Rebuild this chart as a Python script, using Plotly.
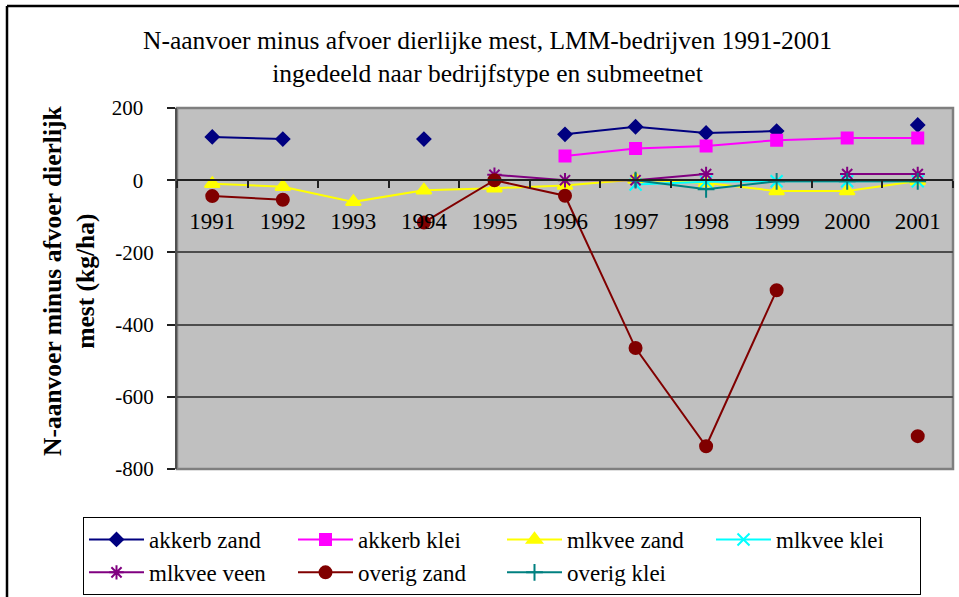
import plotly.graph_objects as go

W, H = 959, 597
FONT = "Liberation Serif"

years = ["1991", "1992", "1993", "1994", "1995", "1996", "1997", "1998", "1999", "2000", "2001"]

akkerb_zand = [120, 114, None, 114, None, 127, 148, 131, 136, None, 153]
akkerb_klei = [None, None, None, None, None, 67, 88, 95, 111, 117, 117]
mlkvee_zand = [-10, -18, -60, -28, -22, -15, 2, -8, -30, -30, -2]
mlkvee_klei = [None, None, None, None, None, None, -12, -4, -3, -3, -3]
mlkvee_veen = [None, None, None, None, 15, 0, 0, 17, None, 17, 17]
overig_zand = [-44, -54, None, -117, 0, -43, -465, -737, -305, None, -709]
overig_klei = [None, None, None, None, None, None, 0, -25, -3, -3, -3]

series_names = ["akkerb zand", "akkerb klei", "mlkvee zand", "mlkvee klei",
                "mlkvee veen", "overig zand", "overig klei"]
series_values = [akkerb_zand, akkerb_klei, mlkvee_zand, mlkvee_klei,
                 mlkvee_veen, overig_zand, overig_klei]

y_tickvals = [-800, -600, -400, -200, 0, 200]
y_ticktext = ["-800", "-600", "-400", "-200", "0\u00a0\u00a0", "200\u00a0\u00a0"]

title_lines = ["N-aanvoer minus afvoer dierlijke mest, LMM-bedrijven 1991-2001",
               "ingedeeld naar bedrijfstype en submeetnet"]
ytitle_lines = ["N-aanvoer minus afvoer dierlijk", "mest (kg/ha)"]

styles = [
    dict(color="#000080", symbol="diamond", size=10),
    dict(color="#FF00FF", symbol="square", size=11),
    dict(color="#FFFF00", symbol="triangle-up", size=13),
    dict(color="#00FFFF", symbol="x-thin-open", size=12),
    dict(color="#800080", symbol="asterisk-open", size=12),
    dict(color="#800000", symbol="circle", size=12),
    dict(color="#008080", symbol="cross-thin-open", size=12),
]

# plot area in pixels
L, R, T, B = 177, 953, 108, 469
pw, ph = R - L, B - T

fig = go.Figure()
for name, vals, st in zip(series_names, series_values, styles):
    fig.add_trace(go.Scatter(
        x=years, y=vals, name=name, mode="lines+markers",
        connectgaps=False,
        line=dict(color=st["color"], width=2),
        marker=dict(symbol=st["symbol"], size=st["size"], color=st["color"],
                    line=dict(color=st["color"], width=2)),
    ))

def px_x(p):
    return (p - L) / pw

def px_y(p):
    return (B - p) / ph

fig.update_layout(
    width=W, height=H, autosize=False,
    margin=dict(l=L, r=W - R, t=T, b=H - B, pad=0, autoexpand=False),
    paper_bgcolor="white", plot_bgcolor="#C0C0C0",
    font=dict(family=FONT, color="black", size=22),
    title=dict(text="<br>".join(title_lines), x=487.5 / W, xanchor="center",
               y=1 - 49 / H, yanchor="middle", yref="container", xref="container",
               font=dict(family=FONT, size=25.5, color="black")),
    xaxis=dict(type="category", categoryorder="array", categoryarray=years,
               anchor="free", position=0.8, showgrid=False,
               showline=True, linecolor="#202020", linewidth=1.5,
               ticks="outside", tickson="boundaries", ticklen=7, tickcolor="#202020",
               tickwidth=1.5, ticklabelstandoff=20,
               tickfont=dict(family=FONT, size=23, color="black"),
               zeroline=False, range=[-0.5, 10.5]),
    yaxis=dict(range=[-800, 200], tickvals=y_tickvals, ticktext=y_ticktext,
               showgrid=True, gridcolor="#4d4d4d", gridwidth=1.5,
               showline=True, linecolor="#505050", linewidth=2,
               ticks="outside", ticklen=8, tickcolor="#202020", tickwidth=1.5,
               ticklabelstandoff=9, zeroline=False,
               tickfont=dict(family=FONT, size=21, color="black")),
    legend=dict(orientation="h",
                x=px_x(83), xanchor="left", y=px_y(517), yanchor="top",
                bgcolor="white", bordercolor="black", borderwidth=1,
                font=dict(family=FONT, size=23, color="black"),
                itemwidth=55,
                entrywidth=139, entrywidthmode="pixels", traceorder="normal",
                itemsizing="trace"),
    showlegend=True,
)

fig.add_annotation(
    text="<b>" + "<br>".join(ytitle_lines) + "</b>",
    xref="paper", yref="paper", x=px_x(69), y=px_y(281), xanchor="center", yanchor="middle",
    textangle=-90, showarrow=False,
    font=dict(family=FONT, size=25.5, color="black"),
)

# plot area border
fig.add_shape(type="rect", xref="paper", yref="paper", x0=0, x1=1, y0=0, y1=1,
              line=dict(color="#7f7f7f", width=2.5), layer="below")
# outer chart frame (left and top edges visible)
fig.add_shape(type="line", xref="paper", yref="paper",
              x0=px_x(7), x1=px_x(7), y0=px_y(6), y1=px_y(H + 5),
              line=dict(color="black", width=2.5))
fig.add_shape(type="line", xref="paper", yref="paper",
              x0=px_x(7), x1=px_x(W + 5), y0=px_y(6), y1=px_y(6),
              line=dict(color="black", width=2.5))

fig.write_html("out.html", config={"displayModeBar": False},
               post_script="document.body.style.margin='0';")
